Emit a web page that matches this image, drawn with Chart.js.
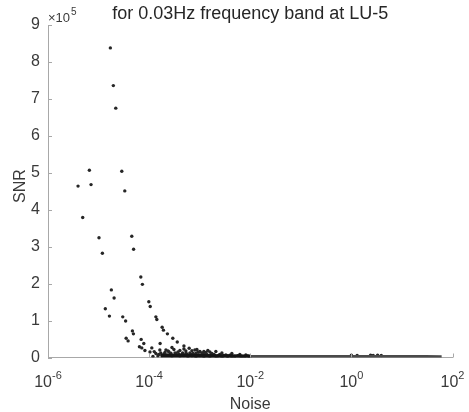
<!DOCTYPE html>
<html>
<head>
<meta charset="utf-8">
<script src="https://cdn.jsdelivr.net/npm/chart.js@4"></script>
<style>
  html, body { margin: 0; padding: 0; background: #fff; }
  canvas { display: block; }
</style>
</head>
<body>
<canvas id="snrChart" width="469" height="412"></canvas>
<script>
// Values (noise on a log axis, SNR in raw units)
const noise = [
    1.71e-5, 1.96e-5, 2.19e-5, 6.58e-6, 2.88e-5, 3.93e-6, 7.10e-6, 3.30e-5,
    4.86e-6, 1.02e-5, 4.54e-5, 4.93e-5, 1.19e-5, 6.85e-5, 7.36e-5, 1.79e-5,
    2.03e-5, 9.86e-5, 1.05e-4, 1.36e-5, 1.64e-5, 3.01e-5, 3.43e-5, 1.36e-4,
    1.42e-4, 1.81e-4, 1.92e-4, 2.30e-4, 4.67e-5, 4.89e-5, 3.51e-5, 3.84e-5,
    6.95e-5, 7.85e-5, 6.43e-5, 7.16e-5, 1.13e-4, 1.26e-4, 1.65e-4, 2.94e-4,
    3.60e-4, 4.88e-4, 6.19e-4,
    8.26e-5, 1.04e-4, 1.36e-4, 1.63e-4, 2.05e-4, 2.58e-4, 3.09e-4, 3.71e-4,
    4.45e-4, 5.33e-4, 6.40e-4, 7.67e-4, 8.03e-4, 9.20e-4, 1.01e-3, 1.16e-3,
    1.33e-3, 1.45e-3, 1.74e-3, 1.91e-3, 2.29e-3, 2.51e-3, 3.01e-3, 3.61e-3,
    3.95e-3, 4.97e-3, 6.22e-3, 7.81e-3, 9.82e-3,
    2.25e-4, 2.83e-4, 3.39e-4, 4.06e-4, 4.88e-4, 5.85e-4, 7.02e-4, 8.41e-4,
    1.01e-3, 1.21e-3, 1.59e-3, 2.09e-3, 2.75e-3, 3.30e-3, 4.33e-3, 5.69e-3,
    6.82e-3, 8.97e-3, 1.79e-4, 1.49e-4, 1.19e-4, 2.36e-4, 4.06e-4, 7.02e-4,
    1.21e-3, 1.59e-3, 8.41e-4, 5.33e-4, 3.39e-4, 2.15e-4, 2.83e-4, 4.88e-4,
    8.81e-4, 1.45e-3, 2.09e-3, 2.75e-3, 4.33e-3, 6.22e-3, 8.18e-3,
    1.55e-4, 1.70e-4, 1.95e-4, 2.45e-4, 2.70e-4, 3.25e-4, 3.90e-4, 4.60e-4,
    5.60e-4, 6.70e-4, 7.40e-4, 9.60e-4, 1.10e-3, 1.27e-3, 1.38e-3, 1.66e-3,
    1.98e-3, 2.40e-3, 2.90e-3, 3.50e-3,
    1.0, 1.3, 2.4, 2.7, 3.3, 3.9
];
const snr = [
    838000, 736000, 675000, 507000, 504000, 464000, 468000, 451000,
    379000, 324000, 328000, 293000, 282000, 218000, 198000, 183000,
    161000, 151000, 138000, 132000, 112000, 110000, 99000, 110000,
    103000, 82000, 74000, 64000, 72000, 64000, 52000, 45000,
    49000, 38000, 29000, 26000, 26000, 16000, 38000, 52000,
    42000, 31000, 25000,
    18900, 14900, 10800, 20300, 13500, 9500, 21600, 14900,
    8100, 17600, 12200, 6800, 20300, 14900, 16200, 9500,
    13500, 5400, 10800, 8100, 4100, 8100, 5400, 2700,
    5900, 2700, 4100, 1900, 1400,
    6800, 4100, 6800, 4100, 5400, 2700, 4600, 2700,
    5400, 2700, 2700, 3200, 1900, 6800, 1900, 4600,
    2700, 4100, 5400, 4100, 2700, 17600, 18900, 18100,
    16200, 14900, 10800, 10800, 10800, 20300, 27000, 23000,
    21600, 18900, 16200, 12200, 10800, 8100, 6800,
    8000, 12000, 9000, 16000, 11500, 12500, 9000, 12000,
    9500, 8500, 11000, 7500, 12000, 10500, 8000, 7000,
    6500, 6000, 4500, 4000,
    6000, 5500, 6500, 5800, 6000, 5500
];
// solid mass of overlapping points near the axis, and the long run after it
const bandNoise = [1.7e-4, 3e-4, 6e-4, 1e-3, 2e-3, 4e-3, 1e-2];
const bandSnr = [5000, 5000, 4500, 4000, 3500, 3200, 3000];
const tailNoise = [0.01, 0.03, 0.1, 0.3, 1, 3, 10, 30, 61];
const tailSnr = [3000, 2800, 2700, 2600, 2500, 2500, 2400, 2400, 2300];

const xTickExp = [-6, -4, -2, 0, 2];
const yTicks = [0, 1, 2, 3, 4, 5, 6, 7, 8, 9];

const FONT = '"Liberation Sans", Arial, Helvetica, sans-serif';
const AXIS_GRAY = '#a8a8a8';
const TEXT = '#3a3a3a';

const points = noise.map((n, i) => ({ x: n, y: snr[i] }));
const band = bandNoise.map((n, i) => ({ x: n, y: bandSnr[i] }));
const tail = tailNoise.map((n, i) => ({ x: n, y: tailSnr[i] }));

// MATLAB-like decorations: inward ticks, 10^n labels, exponent, titles
const matlabAxes = {
    id: 'matlabAxes',
    afterDraw(chart) {
        const ctx = chart.ctx;
        const xs = chart.scales.x, ys = chart.scales.y;
        const area = chart.chartArea;
        ctx.save();

        // inward tick marks
        ctx.strokeStyle = AXIS_GRAY;
        ctx.lineWidth = 1;
        ctx.beginPath();
        yTicks.forEach(t => {
            const py = Math.round(ys.getPixelForValue(t * 1e5)) + 0.5;
            ctx.moveTo(area.left, py);
            ctx.lineTo(area.left + 4, py);
        });
        xTickExp.forEach(e => {
            const px = Math.round(xs.getPixelForValue(Math.pow(10, e))) + 0.5;
            ctx.moveTo(px, area.bottom);
            ctx.lineTo(px, area.bottom - 4);
        });
        ctx.stroke();

        // x tick labels 10^n
        ctx.fillStyle = TEXT;
        ctx.textBaseline = 'alphabetic';
        ctx.textAlign = 'left';
        xTickExp.forEach(e => {
            const px = xs.getPixelForValue(Math.pow(10, e));
            ctx.font = '16px ' + FONT;
            const wb = ctx.measureText('10').width;
            ctx.font = '11px ' + FONT;
            const exp = String(e);
            const we = ctx.measureText(exp).width;
            const x0 = px - (wb + we) / 2;
            ctx.font = '16px ' + FONT;
            ctx.fillText('10', x0, 387);
            ctx.font = '11px ' + FONT;
            ctx.fillText(exp, x0 + wb, 379);
        });

        // x10^5 multiplier
        ctx.font = '13px ' + FONT;
        ctx.fillText('\u00d710', area.left, 22);
        const wm = ctx.measureText('\u00d710').width;
        ctx.font = '10px ' + FONT;
        ctx.fillText('5', area.left + wm + 1, 15);

        // title
        ctx.fillStyle = '#262626';
        ctx.textAlign = 'center';
        ctx.font = '18px ' + FONT;
        ctx.fillText('for 0.03Hz frequency band at LU-5', (area.left + area.right) / 2, 19);

        // axis labels
        ctx.fillStyle = TEXT;
        ctx.font = '16px ' + FONT;
        ctx.fillText('Noise', (area.left + area.right) / 2, 409);
        ctx.save();
        ctx.translate(25, 186);
        ctx.rotate(-Math.PI / 2);
        ctx.fillText('SNR', 0, 0);
        ctx.restore();

        ctx.restore();
    }
};

new Chart(document.getElementById('snrChart'), {
    type: 'scatter',
    data: {
        datasets: [
            {
                label: 'tail',
                data: tail,
                showLine: true,
                borderColor: '#4a4a4a',
                borderWidth: 3,
                pointRadius: 0
            },
            {
                label: 'band',
                data: band,
                showLine: true,
                borderColor: '#151515',
                borderWidth: 4,
                pointRadius: 0
            },
            {
                label: 'SNR',
                data: points,
                backgroundColor: '#262626',
                borderWidth: 0,
                pointRadius: 1.7
            }
        ]
    },
    plugins: [matlabAxes],
    options: {
        responsive: false,
        devicePixelRatio: 1,
        animation: false,
        layout: { padding: { top: 25, right: 16.5, bottom: 0, left: 0 } },
        plugins: {
            legend: { display: false },
            tooltip: { enabled: false },
            title: { display: false }
        },
        scales: {
            x: {
                type: 'logarithmic',
                min: 1e-6,
                max: 1e2,
                ticks: { display: false },
                grid: { display: false, drawTicks: false },
                border: { display: true, color: AXIS_GRAY, width: 1 },
                afterFit(s) { s.height = 54.5; }
            },
            y: {
                type: 'linear',
                min: 0,
                max: 9e5,
                ticks: {
                    stepSize: 1e5,
                    padding: 8,
                    color: TEXT,
                    font: { size: 16, family: FONT },
                    callback: v => v / 1e5
                },
                grid: { display: false, drawTicks: false },
                border: { display: true, color: AXIS_GRAY, width: 1 },
                afterFit(s) { s.width = 48; }
            }
        }
    }
});
</script>
</body>
</html>
